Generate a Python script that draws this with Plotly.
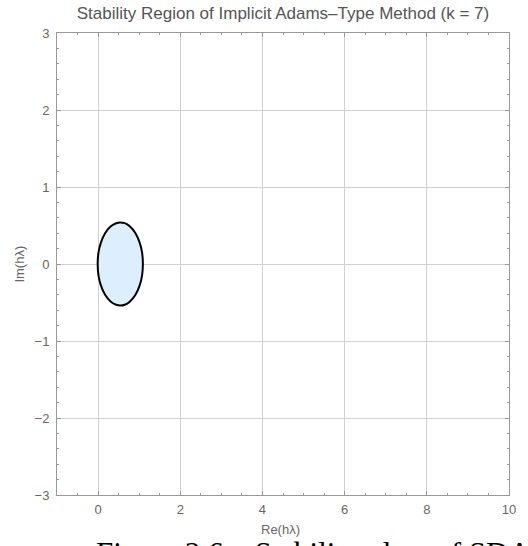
import plotly.graph_objects as go

# Boundary of the stability region (Re, Im)
re_vals = [1.09, 1.07, 1.01, 0.91, 0.77, 0.65, 0.54, 0.44, 0.31, 0.17, 0.07, 0.01, -0.01,
           0.01, 0.07, 0.17, 0.31, 0.44, 0.54, 0.65, 0.77, 0.91, 1.01, 1.07, 1.09]
im_vals = [0.00, 0.15, 0.28, 0.40, 0.49, 0.53, 0.54, 0.53, 0.49, 0.40, 0.28, 0.15, 0.00,
           -0.15, -0.28, -0.40, -0.49, -0.53, -0.54, -0.53, -0.49, -0.40, -0.28, -0.15, 0.00]

x_range = [-1, 10]
y_range = [-3, 3]
x_ticks = [0, 2, 4, 6, 8, 10]
y_ticks = [-3, -2, -1, 0, 1, 2, 3]

title_text = "Stability Region of Implicit Adams\u2013Type Method (k = 7)"
x_label = "Re(h\u03bb)"
y_label = "Im(h\u03bb)"
caption = "Figure 3.6 \u2013 Stability plots of SDA"

fig = go.Figure()
fig.add_trace(go.Scatter(
    x=re_vals, y=im_vals, mode="lines", fill="toself",
    fillcolor="#DDEEFF", line=dict(color="black", width=2, shape="spline"),
    hoverinfo="skip", showlegend=False))

axis_common = dict(
    showline=True, linecolor="#999999", linewidth=1, mirror="allticks",
    ticks="inside", ticklen=4, tickcolor="#999999", tickwidth=1,
    showgrid=True, gridcolor="#D0D0D0", gridwidth=1, zeroline=False,
    tickfont=dict(family="Liberation Sans, Arial", size=13, color="#666666"),
)

fig.update_xaxes(range=x_range, tickvals=x_ticks, ticklabelstandoff=2,
                 minor=dict(dtick=0.5, ticks="inside", ticklen=2, tickcolor="#999999", showgrid=False),
                 **axis_common)
fig.update_yaxes(range=y_range, tickvals=y_ticks, ticklabelstandoff=4,
                 minor=dict(dtick=0.2, ticks="inside", ticklen=2, tickcolor="#999999", showgrid=False),
                 **axis_common)

fig.update_layout(
    width=528, height=546,
    margin=dict(l=57, r=12, t=33, b=51),
    paper_bgcolor="white", plot_bgcolor="white",
    title=dict(text=title_text, x=283 / 528, xanchor="center", y=1 - 13 / 546, yanchor="middle",
               font=dict(family="Liberation Sans, Arial", size=17, color="#555555")),
    annotations=[
        dict(text=x_label, xref="paper", yref="paper", x=(284 - 57) / 459, y=(495 - 529) / 462,
             xanchor="center", yanchor="middle", showarrow=False,
             font=dict(family="Liberation Sans, Arial", size=13, color="#666666")),
        dict(text=y_label, xref="paper", yref="paper", x=(18 - 57) / 459, y=0.5, textangle=-90,
             xanchor="center", yanchor="middle", showarrow=False,
             font=dict(family="Liberation Sans, Arial", size=13, color="#666666")),
        dict(text=caption, xref="paper", yref="paper", x=(95 - 57) / 459, y=(495 - 534) / 462,
             xanchor="left", yanchor="top", showarrow=False,
             font=dict(family="Liberation Serif, Times New Roman", size=31, color="black")),
    ],
)

fig.write_html("out.html", config={"displayModeBar": False},
               post_script="document.body.style.margin='0';document.body.style.overflow='hidden';")
